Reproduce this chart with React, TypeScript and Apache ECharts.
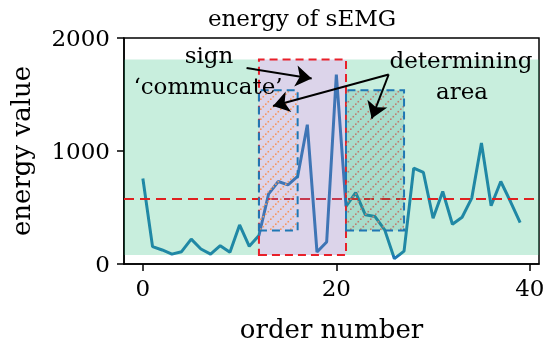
import React, { useEffect, useRef } from "react";
import * as echarts from "echarts";

// ---- data ----
const orderNumbers: number[] = Array.from({ length: 40 }, (_, i) => i);
const energyValues: number[] = [
  757, 154, 124, 87, 109, 220, 133, 87, 162, 104,
  346, 157, 252, 620, 730, 700, 775, 1233, 106, 195,
  1677, 509, 632, 435, 420, 302, 47, 114, 849, 810,
  405, 642, 352, 414, 583, 1071, 515, 730, 553, 366,
];
const meanLevel = 575;
const xTicks: number[] = [0, 20, 40];
const yTicks: number[] = [0, 1000, 2000];
const X_MIN = -1.95;
const X_MAX = 40.95;
const spanLow = 80;
const spanHigh = 1810;
const signalWindow: [number, number] = [12, 21];
const boxLow = 296;
const boxHigh = 1538;
const box1: [number, number] = [12, 16];
const box2: [number, number] = [21, 27];
// arrows: [startX, startY, endX, endY] in data units
const arrows: number[][] = [
  [10.72, 1735, 17.45, 1641],
  [25.41, 1677, 13.46, 1398],
  [25.41, 1677, 23.65, 1287],
];

const SERIF = "DejaVu Serif";

function makeHatch(color: string): HTMLCanvasElement {
  const c = document.createElement("canvas");
  c.width = 10;
  c.height = 10;
  const ctx = c.getContext("2d")!;
  ctx.fillStyle = color;
  for (let i = 0; i < 10; i += 2.5) {
    ctx.fillRect(i, 10 - i - 1.6, 1.6, 1.6);
  }
  return c;
}

export default function App() {
  const ref = useRef<HTMLDivElement>(null);
  useEffect(() => {
    if (!ref.current) return;
    const chart = echarts.init(ref.current, undefined, { renderer: "svg" });
    const hatchOrange = makeHatch("rgba(245,150,95,1)");
    const hatchBrown = makeHatch("rgba(190,125,110,1)");
    const lineData = orderNumbers.map((x, i) => [x, energyValues[i]]);
    const blueBorder = {
      borderColor: "#1f77b4",
      borderWidth: 2,
      borderType: [8, 5] as any,
    };
    const txt = (text: string, x: number, y: number) => ({
      type: "text",
      x,
      y,
      z: 20,
      style: {
        text,
        font: `23px "${SERIF}"`,
        fill: "#000",
        align: "center",
        verticalAlign: "middle",
      },
    });
    chart.setOption({
      animation: false,
      grid: {
        left: 124,
        right: 11,
        top: 38,
        bottom: 84,
        show: true,
        borderColor: "#000",
        borderWidth: 1.5,
        backgroundColor: "transparent",
      },
      graphic: [
        txt("energy of sEMG", 302, 18),
        txt("sign", 209, 55),
        txt("\u2018commucate\u2019", 208, 86),
        txt("determining", 461, 60),
        txt("area", 462, 91),
      ],
      xAxis: {
        type: "value",
        min: X_MIN,
        max: X_MAX,
        name: "order number",
        nameLocation: "middle",
        nameGap: 52,
        nameTextStyle: { fontFamily: SERIF, fontSize: 26, color: "#000" },
        splitLine: { show: false },
        axisLine: { show: true, onZero: false, lineStyle: { color: "#000", width: 1.5 } },
        axisTick: {
          show: true,
          length: 7,
          customValues: xTicks,
          lineStyle: { color: "#000", width: 1.5 },
        },
        axisLabel: {
          customValues: xTicks,
          margin: 12,
          fontFamily: SERIF,
          fontSize: 23,
          color: "#000",
          formatter: (v: number) => String(v),
        },
      },
      yAxis: {
        type: "value",
        min: 0,
        max: 2000,
        interval: 1000,
        name: "energy value",
        nameLocation: "middle",
        nameGap: 90,
        nameTextStyle: { fontFamily: SERIF, fontSize: 26, color: "#000" },
        splitLine: { show: false },
        axisLine: { show: true, onZero: false, lineStyle: { color: "#000", width: 1.5 } },
        axisTick: {
          show: true,
          length: 7,
          customValues: yTicks,
          lineStyle: { color: "#000", width: 1.5 },
        },
        axisLabel: {
          customValues: yTicks,
          margin: 14,
          fontFamily: SERIF,
          fontSize: 23,
          color: "#000",
          formatter: (v: number) => String(v),
        },
      },
      series: [
        {
          type: "line",
          data: lineData,
          z: 2,
          symbol: "none",
          silent: true,
          lineStyle: { color: "#1f77b4", width: 3 },
          markLine: {
            z: 3.5,
            silent: true,
            symbol: "none",
            label: { show: false },
            lineStyle: { color: "#e02020", type: [10, 6], width: 1.8 },
            data: [{ yAxis: meanLevel }],
          },
        },
        {
          type: "line",
          data: [],
          z: 3,
          silent: true,
          markArea: {
            z: 3,
            silent: true,
            data: [
              [
                { xAxis: X_MIN, yAxis: spanLow, itemStyle: { color: "rgba(35,187,119,0.25)" } },
                { xAxis: signalWindow[0], yAxis: spanHigh },
              ],
              [
                { xAxis: signalWindow[1], yAxis: spanLow, itemStyle: { color: "rgba(35,187,119,0.25)" } },
                { xAxis: X_MAX, yAxis: spanHigh },
              ],
            ],
          },
        },
        {
          type: "line",
          data: [],
          z: 3.7,
          silent: true,
          markArea: {
            z: 3.7,
            silent: true,
            data: [
              [
                {
                  xAxis: signalWindow[0],
                  yAxis: spanLow,
                  itemStyle: {
                    color: "rgba(138,112,185,0.3)",
                    borderColor: "#e8202a",
                    borderWidth: 2,
                    borderType: [8, 5],
                  },
                },
                { xAxis: signalWindow[1], yAxis: spanHigh },
              ],
            ],
          },
        },
        {
          type: "line",
          data: [],
          z: 4,
          silent: true,
          markArea: {
            z: 4,
            silent: true,
            data: [
              [
                {
                  xAxis: box1[0],
                  yAxis: boxLow,
                  itemStyle: { color: { image: hatchOrange, repeat: "repeat" }, ...blueBorder },
                },
                { xAxis: box1[1], yAxis: boxHigh },
              ],
              [
                {
                  xAxis: box2[0],
                  yAxis: boxLow,
                  itemStyle: { color: "rgba(40,150,130,0.2)" },
                },
                { xAxis: box2[1], yAxis: boxHigh },
              ],
              [
                {
                  xAxis: box2[0],
                  yAxis: boxLow,
                  itemStyle: { color: { image: hatchBrown, repeat: "repeat" }, ...blueBorder },
                },
                { xAxis: box2[1], yAxis: boxHigh },
              ],
            ],
          },
        },
        {
          type: "line",
          data: [],
          z: 6,
          silent: true,
          markLine: {
            z: 6,
            silent: true,
            symbol: ["none", "arrow"],
            symbolSize: 16,
            label: { show: false },
            lineStyle: { color: "#000", type: "solid", width: 2, opacity: 1 },
            itemStyle: { color: "#000" },
            data: arrows.map((a) => [
              { coord: [a[0], a[1]] },
              { coord: [a[2], a[3]] },
            ]),
          },
        },
      ],
    });
    return () => chart.dispose();
  }, []);
  return (
    <div
      ref={ref}
      style={{ position: "fixed", left: 0, top: 0, width: 550, height: 348 }}
    />
  );
}
